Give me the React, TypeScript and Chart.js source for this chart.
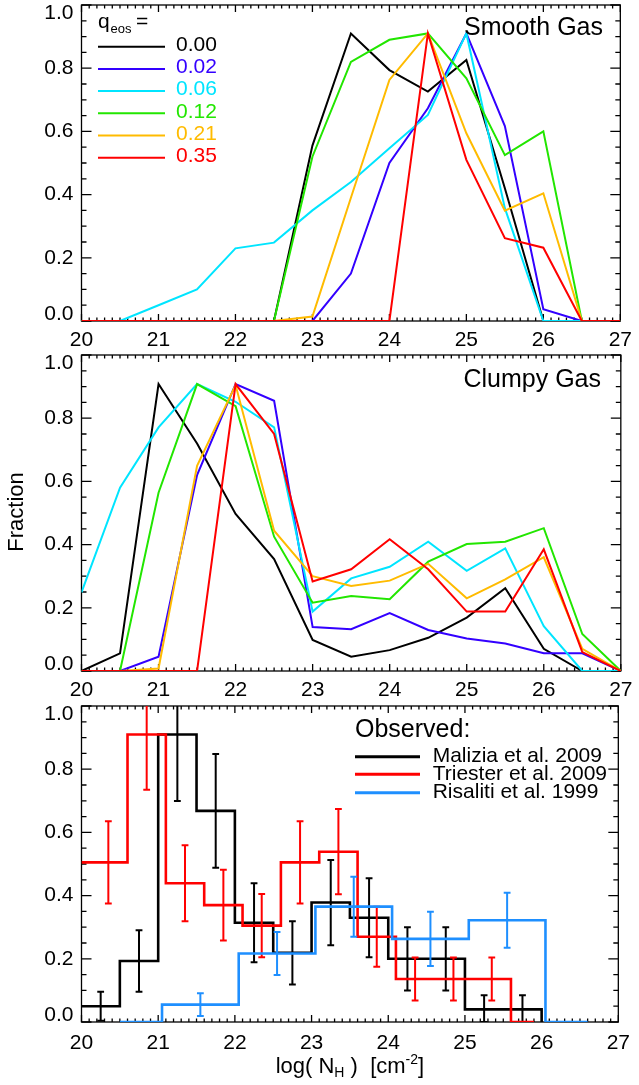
import React, { useEffect, useRef } from "react";
import { Chart, registerables } from "chart.js";

Chart.register(...registerables);

// ---------- data ----------
const X_GRID = [20, 20.5, 21, 21.5, 22, 22.5, 23, 23.5, 24, 24.5, 25, 25.5, 26, 26.5, 27];
const X_TICKS = [20, 21, 22, 23, 24, 25, 26, 27];
const Y_TICKS = [0, 0.2, 0.4, 0.6, 0.8, 1.0];
const Y_TICK_LABELS = ["0.0", "0.2", "0.4", "0.6", "0.8", "1.0"];

const Q_EOS_LABELS = ["0.00", "0.02", "0.06", "0.12", "0.21", "0.35"];

// Smooth gas
const SMOOTH_Q000 = [0, 0, 0, 0, 0, 0, 0.555, 0.91, 0.794, 0.726, 0.826, 0.42, 0, 0, 0];
const SMOOTH_Q002 = [0, 0, 0, 0, 0, 0, 0, 0.15, 0.5, 0.673, 0.91, 0.617, 0.037, 0, 0];
const SMOOTH_Q006 = [0, 0, 0.05, 0.1, 0.23, 0.248, 0.35, 0.44, 0.547, 0.652, 0.91, 0.357, 0, 0, 0];
const SMOOTH_Q012 = [0, 0, 0, 0, 0, 0, 0.52, 0.82, 0.89, 0.91, 0.768, 0.525, 0.6, 0, 0];
const SMOOTH_Q021 = [0, 0, 0, 0, 0, 0, 0.014, 0.39, 0.763, 0.91, 0.594, 0.349, 0.404, 0, 0];
const SMOOTH_Q035 = [0, 0, 0, 0, 0, 0, 0, 0, 0, 0.91, 0.51, 0.262, 0.232, 0, 0];

// Clumpy gas
const CLUMPY_Q000 = [0, 0.056, 0.908, 0.72, 0.497, 0.354, 0.098, 0.045, 0.066, 0.105, 0.169, 0.262, 0.07, 0, 0];
const CLUMPY_Q002 = [0, 0, 0.045, 0.62, 0.908, 0.855, 0.139, 0.132, 0.183, 0.13, 0.103, 0.087, 0.056, 0.056, 0];
const CLUMPY_Q006 = [0.249, 0.58, 0.771, 0.908, 0.852, 0.771, 0.188, 0.293, 0.33, 0.409, 0.317, 0.388, 0.142, 0, 0];
const CLUMPY_Q012 = [0, 0, 0.564, 0.908, 0.838, 0.425, 0.216, 0.237, 0.227, 0.346, 0.402, 0.409, 0.452, 0.117, 0];
const CLUMPY_Q021 = [0, 0, 0.008, 0.649, 0.905, 0.444, 0.3, 0.269, 0.286, 0.339, 0.23, 0.29, 0.36, 0.07, 0];
const CLUMPY_Q035 = [0, 0, 0, 0, 0.908, 0.75, 0.283, 0.322, 0.417, 0.322, 0.188, 0.188, 0.385, 0.06, 0];

// Observed histograms: bin left edges and the level of the bin starting there (last = end point)
const OBS_LABELS = ["Malizia et al. 2009", "Triester et al. 2009", "Risaliti et al. 1999"];

const MAL_EDGES = [20, 20.5, 21, 21.5, 22, 22.5, 23, 23.5, 24, 24.5, 25, 25.5, 26];
const MAL_VALUES = [0.05, 0.193, 0.91, 0.668, 0.314, 0.219, 0.378, 0.33, 0.2, 0.2, 0.04, 0.04, 0];
const MAL_ERR_X = [20.25, 20.75, 21.25, 21.75, 22.25, 22.75, 23.25, 23.75, 24.25, 24.75, 25.25, 25.75];
const MAL_ERR_Y = [0.05, 0.193, 0.91, 0.668, 0.314, 0.219, 0.378, 0.33, 0.2, 0.2, 0.04, 0.04];
const MAL_ERR = [0.046, 0.097, 0.211, 0.18, 0.125, 0.1, 0.135, 0.125, 0.1, 0.1, 0.045, 0.045];

const TRI_EDGES = [20, 20.6, 21.1, 21.6, 22.1, 22.6, 23.1, 23.6, 24.1, 24.6, 25.1, 25.6, 25.9];
const TRI_VALUES = [0.505, 0.91, 0.439, 0.37, 0.305, 0.505, 0.539, 0.27, 0.136, 0.136, 0.136, 0, 0];
const TRI_ERR_X = [20.35, 20.85, 21.35, 21.85, 22.35, 22.85, 23.35, 23.85, 24.35, 24.85, 25.35];
const TRI_ERR_Y = [0.505, 0.91, 0.439, 0.37, 0.305, 0.505, 0.539, 0.27, 0.136, 0.136, 0.136];
const TRI_ERR = [0.13, 0.175, 0.12, 0.112, 0.1, 0.13, 0.135, 0.095, 0.068, 0.068, 0.068];

const RIS_EDGES = [20.5, 21.05, 22.05, 23.05, 24.05, 25.05, 26.05, 26.6];
const RIS_VALUES = [0, 0.055, 0.217, 0.365, 0.263, 0.322, 0, 0];
const RIS_ERR_X = [21.55, 22.55, 23.55, 24.55, 25.55];
const RIS_ERR_Y = [0.055, 0.217, 0.365, 0.263, 0.322];
const RIS_ERR = [0.036, 0.068, 0.095, 0.086, 0.087];

// ---------- styles ----------
const FONT = "'Liberation Sans', Arial, Helvetica, sans-serif";
const Q_COLORS = ["#000000", "#3300ff", "#00e5ff", "#22e600", "#ffbb00", "#ff0000"];
const OBS_COLORS = ["#000000", "#ff0000", "#1e8fff"];

// ---------- helpers ----------
const gridSeries = (vals: number[]) => X_GRID.map((x, i) => ({ x, y: vals[i] }));
const stepSeries = (edges: number[], vals: number[]) => edges.map((x, i) => ({ x, y: vals[i] }));
const errSeries = (xs: number[], ys: number[], es: number[]) => {
  const out: { x: number; y: number | null }[] = [];
  xs.forEach((x, i) => {
    out.push({ x, y: Math.max(0, ys[i] - es[i]) });
    out.push({ x, y: ys[i] + es[i] });
    out.push({ x, y: null });
  });
  return out;
};

const framePlugin = {
  id: "idlFrame",
  beforeDatasetsDraw(chart: any) {
    const { ctx, chartArea: a, scales } = chart;
    const xs = scales.x;
    const ys = scales.y;
    ctx.save();
    ctx.strokeStyle = "#000";
    ctx.lineWidth = 1.3;
    ctx.strokeRect(a.left, a.top, a.right - a.left, a.bottom - a.top);
    ctx.beginPath();
    for (let i = 0; i <= 70; i++) {
      const px = xs.getPixelForValue(20 + i * 0.1);
      const L = i % 10 === 0 ? 7 : 3.5;
      ctx.moveTo(px, a.bottom);
      ctx.lineTo(px, a.bottom - L);
      ctx.moveTo(px, a.top);
      ctx.lineTo(px, a.top + L);
    }
    for (let i = 0; i <= 20; i++) {
      const py = ys.getPixelForValue(i * 0.05);
      const L = i % 4 === 0 ? 10 : 5;
      ctx.moveTo(a.left, py);
      ctx.lineTo(a.left + L, py);
      ctx.moveTo(a.right, py);
      ctx.lineTo(a.right - L, py);
    }
    ctx.stroke();
    ctx.restore();
  },
  afterDraw(chart: any) {
    const { ctx, chartArea: a, scales } = chart;
    const ys = scales.y;
    ctx.save();
    ctx.fillStyle = "#000";
    ctx.font = `21px ${FONT}`;
    ctx.textAlign = "right";
    ctx.textBaseline = "middle";
    Y_TICKS.forEach((v, i) => {
      let py = ys.getPixelForValue(v);
      if (i === 0) py -= 7;
      if (i === Y_TICKS.length - 1) py += 8;
      ctx.fillText(Y_TICK_LABELS[i], a.left - 8, py);
    });
    ctx.restore();
  },
};

function modelLegend(ctx: CanvasRenderingContext2D, a: any) {
  ctx.save();
  ctx.fillStyle = "#000";
  ctx.textBaseline = "alphabetic";
  ctx.textAlign = "left";
  ctx.font = `21px ${FONT}`;
  const by = a.top + 23.3;
  ctx.fillText("q", 98, by);
  ctx.font = `13px ${FONT}`;
  ctx.fillText("eos", 110.5, by + 4.7);
  ctx.font = `21px ${FONT}`;
  ctx.fillText("=", 136, by);
  Q_EOS_LABELS.forEach((lab, i) => {
    const ly = a.top + 41.7 + 22.2 * i;
    ctx.strokeStyle = Q_COLORS[i];
    ctx.lineWidth = 2;
    ctx.beginPath();
    ctx.moveTo(98, ly);
    ctx.lineTo(165, ly);
    ctx.stroke();
    ctx.fillStyle = Q_COLORS[i];
    ctx.textBaseline = "middle";
    ctx.fillText(lab, 176, ly - 1.5);
  });
  ctx.restore();
}

function panelTitle(ctx: CanvasRenderingContext2D, a: any, text: string, right: number, dy: number) {
  ctx.save();
  ctx.fillStyle = "#000";
  ctx.font = `25px ${FONT}`;
  ctx.textAlign = "right";
  ctx.textBaseline = "alphabetic";
  ctx.fillText(text, right, a.top + dy);
  ctx.restore();
}

const smoothPlugin = {
  id: "smoothDeco",
  afterDraw(chart: any) {
    const { ctx, chartArea: a } = chart;
    modelLegend(ctx, a);
    panelTitle(ctx, a, "Smooth Gas", 603, 30);
  },
};

const clumpyPlugin = {
  id: "clumpyDeco",
  afterDraw(chart: any) {
    const { ctx, chartArea: a } = chart;
    panelTitle(ctx, a, "Clumpy Gas", 601, 31.7);
    ctx.save();
    ctx.fillStyle = "#000";
    ctx.font = `22px ${FONT}`;
    ctx.textAlign = "center";
    ctx.textBaseline = "middle";
    ctx.translate(17, (a.top + a.bottom) / 2 - 1);
    ctx.rotate(-Math.PI / 2);
    ctx.fillText("Fraction", 0, 0);
    ctx.restore();
  },
};

const observedPlugin = {
  id: "observedDeco",
  afterDraw(chart: any) {
    const { ctx, chartArea: a } = chart;
    ctx.save();
    ctx.fillStyle = "#000";
    ctx.textAlign = "left";
    ctx.textBaseline = "alphabetic";
    ctx.font = `25px ${FONT}`;
    ctx.fillText("Observed:", 355, a.top + 31.3);
    ctx.font = `21px ${FONT}`;
    OBS_LABELS.forEach((lab, i) => {
      const ly = a.top + [50.7, 68.3, 86.7][i];
      ctx.strokeStyle = OBS_COLORS[i];
      ctx.lineWidth = 3;
      ctx.beginPath();
      ctx.moveTo(355, ly);
      ctx.lineTo(420, ly);
      ctx.stroke();
      ctx.fillStyle = "#000";
      ctx.fillText(lab, 432.7, ly + 5.5);
    });
    // x-axis title: log( N_H )  [cm^-2]
    const base = a.bottom + 51;
    const big = `22px ${FONT}`;
    const small = `14px ${FONT}`;
    const parts: [string, string, number][] = [
      ["log( N", big, 0],
      ["H", small, 4],
      [" )  [cm", big, 0],
      ["-2", small, -9],
      ["]", big, 0],
    ];
    let total = 0;
    parts.forEach(([t, f]) => {
      ctx.font = f;
      total += ctx.measureText(t).width;
    });
    let x = (a.left + a.right) / 2 - total / 2;
    parts.forEach(([t, f, dy]) => {
      ctx.font = f;
      ctx.fillText(t, x, base + dy);
      x += ctx.measureText(t).width;
    });
    ctx.restore();
  },
};

function baseOptions(padTop: number, xHeight: number, xPad: number) {
  return {
    animation: false,
    responsive: false,
    events: [],
    layout: { padding: { top: padTop, right: 14, left: 0, bottom: 0 } },
    plugins: {
      legend: { display: false },
      tooltip: { enabled: false },
      title: { display: false },
    },
    scales: {
      x: {
        type: "linear",
        min: 20,
        max: 27,
        grid: { display: false, drawTicks: false },
        border: { display: false },
        afterBuildTicks: (s: any) => {
          s.ticks = X_TICKS.map((v) => ({ value: v }));
        },
        ticks: {
          autoSkip: false,
          maxRotation: 0,
          color: "#000",
          padding: xPad,
          font: { family: FONT, size: 21 },
          callback: (v: any) => String(v),
        },
        afterFit: (s: any) => {
          s.height = xHeight;
        },
      },
      y: {
        type: "linear",
        min: 0,
        max: 1,
        grid: { display: false, drawTicks: false },
        border: { display: false },
        ticks: { display: false, stepSize: 0.2 },
        afterFit: (s: any) => {
          s.width = 81.5;
        },
      },
    },
  };
}

function modelDatasets(series: number[][]) {
  return series.map((vals, i) => ({
    data: gridSeries(vals),
    borderColor: Q_COLORS[i],
    borderWidth: 2,
    pointRadius: 0,
    fill: false,
    tension: 0,
    order: series.length - i,
  }));
}

function observedDatasets() {
  const hist = [
    stepSeries(MAL_EDGES, MAL_VALUES),
    stepSeries(TRI_EDGES, TRI_VALUES),
    stepSeries(RIS_EDGES, RIS_VALUES),
  ];
  const errs = [
    errSeries(MAL_ERR_X, MAL_ERR_Y, MAL_ERR),
    errSeries(TRI_ERR_X, TRI_ERR_Y, TRI_ERR),
    errSeries(RIS_ERR_X, RIS_ERR_Y, RIS_ERR),
  ];
  const out: any[] = [];
  hist.forEach((h, i) => {
    out.push({
      data: h,
      borderColor: OBS_COLORS[i],
      borderWidth: 2.6,
      pointRadius: 0,
      stepped: "before",
      fill: false,
      order: 20 - i * 2,
    });
    out.push({
      data: errs[i],
      borderColor: OBS_COLORS[i],
      borderWidth: 2,
      pointStyle: "line",
      pointRadius: 3.4,
      pointBorderWidth: 2,
      pointBorderColor: OBS_COLORS[i],
      spanGaps: false,
      fill: false,
      order: 19 - i * 2,
    });
  });
  return out;
}

export default function App() {
  const r1 = useRef<HTMLCanvasElement>(null);
  const r2 = useRef<HTMLCanvasElement>(null);
  const r3 = useRef<HTMLCanvasElement>(null);

  useEffect(() => {
    const charts: Chart[] = [];
    charts.push(
      new Chart(r1.current as HTMLCanvasElement, {
        type: "line",
        data: {
          datasets: modelDatasets([SMOOTH_Q000, SMOOTH_Q002, SMOOTH_Q006, SMOOTH_Q012, SMOOTH_Q021, SMOOTH_Q035]),
        },
        options: baseOptions(5, 29, 7) as any,
        plugins: [framePlugin, smoothPlugin],
      })
    );
    charts.push(
      new Chart(r2.current as HTMLCanvasElement, {
        type: "line",
        data: {
          datasets: modelDatasets([CLUMPY_Q000, CLUMPY_Q002, CLUMPY_Q006, CLUMPY_Q012, CLUMPY_Q021, CLUMPY_Q035]),
        },
        options: baseOptions(5, 29, 6.5) as any,
        plugins: [framePlugin, clumpyPlugin],
      })
    );
    charts.push(
      new Chart(r3.current as HTMLCanvasElement, {
        type: "line",
        data: { datasets: observedDatasets() },
        options: baseOptions(6, 63, 9) as any,
        plugins: [framePlugin, observedPlugin],
      })
    );
    return () => charts.forEach((c) => c.destroy());
  }, []);

  return (
    <div style={{ position: "absolute", left: 0, top: 0, width: 639, height: 1085, background: "#fff" }}>
      <canvas ref={r1} width={639} height={350} style={{ position: "absolute", left: 0, top: 0 }} />
      <canvas ref={r2} width={639} height={350} style={{ position: "absolute", left: 0, top: 350 }} />
      <canvas ref={r3} width={639} height={385} style={{ position: "absolute", left: 0, top: 700 }} />
    </div>
  );
}
